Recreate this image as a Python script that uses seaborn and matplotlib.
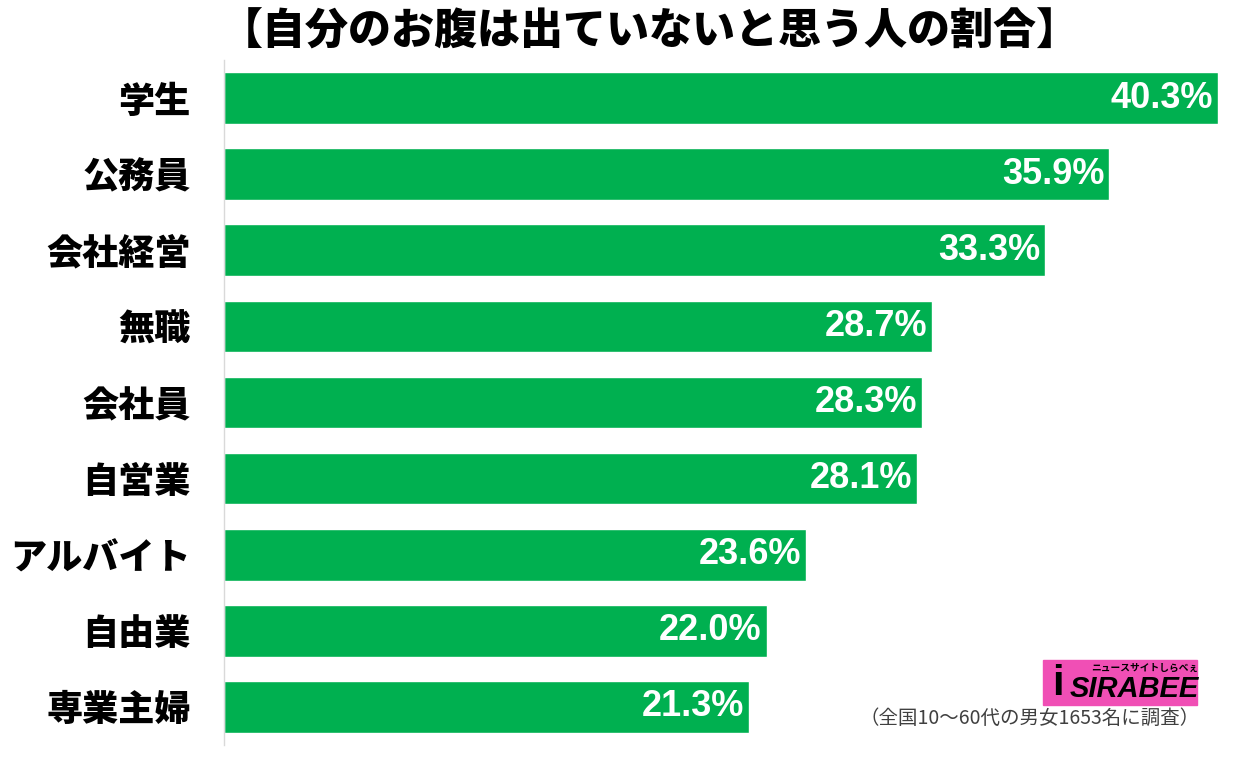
import matplotlib
matplotlib.use("Agg")
import matplotlib.pyplot as plt
import seaborn as sns
import pandas as pd
from matplotlib.patches import Rectangle

categories = ['学生', '公務員', '会社経営', '無職', '会社員', '自営業', 'アルバイト', '自由業', '専業主婦']
values = [40.3, 35.9, 33.3, 28.7, 28.3, 28.1, 23.6, 22.0, 21.3]
title = '【自分のお腹は出ていないと思う人の割合】'
note = '（全国10〜60代の男女1653名に調査）'

df = pd.DataFrame({'category': categories, 'value': values})

sns.set_style('white')
plt.rcParams['font.family'] = ['Noto Sans CJK JP', 'DejaVu Sans']

fig = plt.figure(figsize=(12.43, 7.69), dpi=100)
ax = fig.add_axes([224 / 1243, 1 - 745 / 769, (1218 - 224) / 1243, 685 / 769])

sns.barplot(data=df, x='value', y='category', color='#00B050', saturation=1,
            width=0.68, orient='h', ax=ax)

ax.set_xlim(0, 40.3)
ax.set_ylim(8.5, -0.5)
ax.set_xlabel('')
ax.set_ylabel('')
ax.set_xticks([])
for s in ['top', 'right', 'bottom']:
    ax.spines[s].set_visible(False)
ax.spines['left'].set_color('#d9d9d9')
ax.spines['left'].set_linewidth(1)
ax.tick_params(axis='y', length=0, pad=24)
for lbl in ax.get_yticklabels():
    lbl.set_fontsize(26)
    lbl.set_fontweight('black')
    lbl.set_color('black')

for i, v in enumerate(values):
    ax.text(v - 0.2, i, f'{v:.1f}%', ha='right', va='center', color='white',
            fontsize=26, fontweight='bold',
            family=['Liberation Sans', 'DejaVu Sans'])

fig.text(650 / 1243, 1 - 32 / 769, title, ha='center', va='center',
         fontsize=31, fontweight='black', color='black')

# logo
fig.patches.append(Rectangle((1043 / 1243, 1 - 705 / 769), 154 / 1243, 45 / 769,
                             transform=fig.transFigure, color='#F04FB5', zorder=3))
fig.text(1058 / 1243, 1 - 684 / 769, 'i', ha='center', va='center',
         fontsize=30, fontweight='bold', color='black', zorder=4,
         family=['Liberation Sans', 'DejaVu Sans'])
fig.text(1134 / 1243, 1 - 689 / 769, 'SIRABEE', ha='center', va='center',
         fontsize=21, fontweight='bold', style='italic', color='black', zorder=4,
         family=['Liberation Sans', 'DejaVu Sans'])
fig.text(1145 / 1243, 1 - 668 / 769, 'ニュースサイトしらべぇ', ha='center', va='center',
         fontsize=7, fontweight='bold', color='black', zorder=4)
fig.text(1200 / 1243, 1 - 718 / 769, note, ha='right', va='center',
         fontsize=14, color='#404040')

fig.savefig('out.png', dpi=100)
